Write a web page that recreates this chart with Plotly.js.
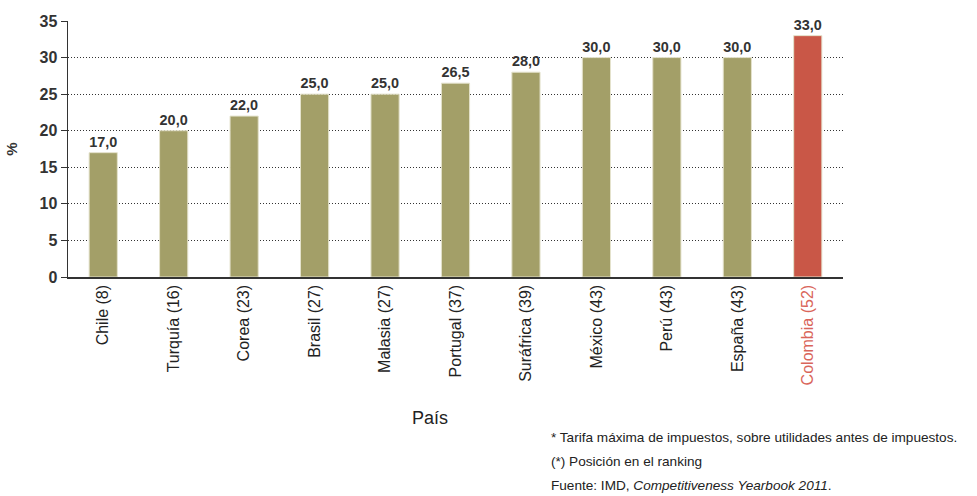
<!DOCTYPE html>
<html><head><meta charset="utf-8">
<script src="https://cdn.plot.ly/plotly-3.0.1.min.js"></script>
<style>html,body{margin:0;padding:0;background:#fff}#c{width:977px;height:496px}</style>
</head><body><div id="c"></div>
<script>
const paises = ["Chile (8)","Turquía (16)","Corea (23)","Brasil (27)","Malasia (27)","Portugal (37)","Suráfrica (39)","México (43)","Perú (43)","España (43)","Colombia (52)"];
const tarifas = [17.0,20.0,22.0,25.0,25.0,26.5,28.0,30.0,30.0,30.0,33.0];
const destacado = "Colombia (52)";
const yTicks = [0,5,10,15,20,25,30,35];
const notas = ["* Tarifa máxima de impuestos, sobre utilidades antes de impuestos.","(*) Posición en el ranking","Fuente: IMD, <i>Competitiveness Yearbook 2011</i>."];

const olive = "#a39f68", red = "#c95747";
const FF = "Liberation Sans, Arial, sans-serif";
const colors = paises.map(p => p === destacado ? red : olive);
const tickText = paises.map(p => p === destacado ? '<span style="color:#d9655a">' + p + '</span>' : p);

const trace = {
  type: "bar", x: paises, y: tarifas,
  marker: {color: colors, line: {color: "#e4e2cc", width: 1}},
  texttemplate: "<b>%{y:.1f}</b>", textposition: "outside",
  textfont: {family: FF, size: 16, color: "#333"},
  cliponaxis: false, hoverinfo: "none"
};
const L = 68, R = 843, T = 21, B = 277, W = 977, H = 496;
const pw = R - L, ph = B - T;
const noteY = [437, 461, 485];
const ann = notas.map((t,i) => ({
  text: t, xref: "paper", yref: "paper", x: (549 - L) / pw, xanchor: "left",
  y: (B - noteY[i]) / ph, yanchor: "middle", showarrow: false,
  font: {family: FF, size: 13.6, color: "#222"}
}));
ann.push({text: "País", xref: "paper", yref: "paper", x: (430 - L) / pw, y: (B - 418) / ph,
  xanchor: "center", yanchor: "middle", showarrow: false,
  font: {family: FF, size: 18, color: "#222"}});

const layout = {
  width: W, height: H, separators: ",.",
  margin: {l: L, r: W - R, t: T, b: H - B},
  paper_bgcolor: "#fff", plot_bgcolor: "#fff",
  bargap: 0.6, showlegend: false,
  font: {family: FF, color: "#222"},
  xaxis: {type: "category", tickvals: paises, ticktext: tickText, tickangle: -90,
    tickfont: {size: 16, color: "#222"}, showline: true, linecolor: "#333", linewidth: 1.5,
    ticks: "", showgrid: false, zeroline: false, fixedrange: true},
  yaxis: {range: [0, 35], tickvals: yTicks, ticktext: yTicks.map(v => "<b>" + v + "</b>"),
    tickfont: {size: 16, color: "#333"}, ticks: "outside", ticklen: 6, tickcolor: "#333",
    showline: true, linecolor: "#333", linewidth: 1.5,
    showgrid: true, gridcolor: "#333", griddash: "1px,2px", gridwidth: 1, zeroline: false,
    title: {text: "<b>%</b>", font: {size: 15, color: "#333"}, standoff: 18}, fixedrange: true},
  annotations: ann
};
Plotly.newPlot("c", [trace], layout, {displayModeBar: false, staticPlot: true});
</script></body></html>
